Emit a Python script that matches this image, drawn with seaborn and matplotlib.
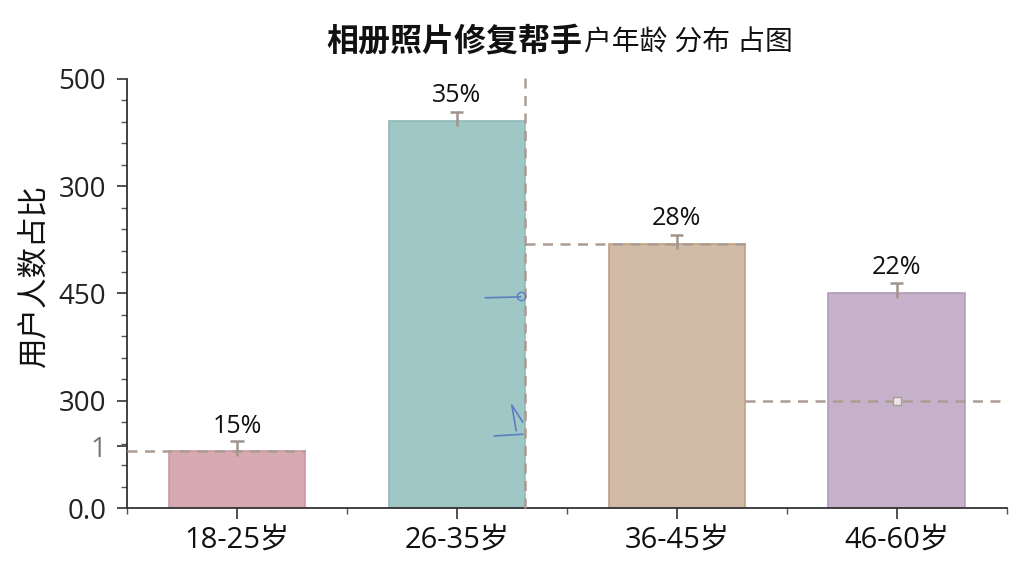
import matplotlib
matplotlib.use("Agg")
import matplotlib.pyplot as plt
from matplotlib.ticker import FixedLocator, MultipleLocator
import numpy as np
import seaborn as sns

# data (bar heights in axis units)
ages = ["18-25岁", "26-35岁", "36-45岁", "46-60岁"]
heights = [66, 451, 308, 251]
pct_labels = ["15%", "35%", "28%", "22%"]
err_up = [12, 11, 10, 11]
err_down = [5, 6, 6, 6]
bar_colors = ["#d9a9b1", "#9fc7c6", "#d2bba6", "#c5b1c9"]
edge_colors = ["#c99aa2", "#8fbab8", "#bf9f80", "#b29cb8"]

ytick_pos = [0, 72, 125, 250, 375, 500]
ytick_text = ["0.0", "1", "300", "450", "300", "500"]

# dashed guide lines: (y, x_start, x_end)
guide_y = [66, 308, 125]
guide_x0 = [-0.5, 1.31, 2.31]
guide_x1 = [0.31, 2.31, 3.5]
vguide_x = 1.31
vguide_top = 506

sns.set_theme(style="ticks")
plt.rcParams["font.family"] = ["Open Sans", "Noto Sans CJK SC", "DejaVu Sans"]

fig = plt.figure(figsize=(10.24, 5.76), dpi=100)
ax = fig.add_axes([0.124, 0.118, 0.859, 0.745])

sns.barplot(x=ages, y=heights, hue=ages, palette=bar_colors, legend=False,
            width=0.62, saturation=1, ax=ax, zorder=2, errorbar=None)
for p, ec in zip(ax.patches, edge_colors):
    p.set_edgecolor(ec)
    p.set_linewidth(1.2)

xs = np.arange(len(ages))
grey = "#a3948b"
ax.vlines(xs, np.array(heights) - np.array(err_down), np.array(heights) + np.array(err_up),
          color=grey, lw=1.8, zorder=4)
ax.hlines(np.array(heights) + np.array(err_up), xs - 0.03, xs + 0.03, color=grey, lw=1.8, zorder=4)

for x, h, t in zip(xs, heights, pct_labels):
    ax.annotate(t, (x, h), xytext=(0, 18), textcoords="offset points",
                ha="center", va="center", fontsize=18, color="#111111")

dash_c = "#ab9d95"
for y, a, b in zip(guide_y, guide_x0, guide_x1):
    ax.plot([a, b], [y, y], ls=(0, (4, 3)), color=dash_c, lw=1.8, zorder=3, clip_on=False)
ax.plot([vguide_x, vguide_x], [0, vguide_top], ls=(0, (4, 3)), color=dash_c, lw=1.8,
        zorder=3, clip_on=False)
ax.plot([3], [125], marker="s", ms=6, mfc="#ece6e8", mec=dash_c, zorder=4)

# stray blue pen marks
ax.plot([1.13, 1.29], [245, 246], color="#5b7fc0", lw=1.2, zorder=5)
ax.plot([1.29], [247], marker="o", ms=6, mfc="none", mec="#5b7fc0", zorder=5)
ax.plot([1.17, 1.3], [84, 86], color="#5b7fc0", lw=1.2, zorder=5)
ax.plot([1.27, 1.25, 1.3], [90, 120, 100], color="#5b7fc0", lw=1.2, zorder=5)

ax.set_xlim(-0.5, 3.5)
ax.set_ylim(0, 500)
ax.yaxis.set_major_locator(FixedLocator(ytick_pos))
ax.set_yticklabels(ytick_text)
ax.yaxis.set_minor_locator(MultipleLocator(25))
ax.xaxis.set_minor_locator(FixedLocator([-0.5, 0.5, 1.5, 2.5, 3.5]))
ax.tick_params(axis="y", which="major", labelsize=20, length=7, width=1.2, color="#333333",
               labelcolor="#222222", pad=8)
ax.tick_params(axis="y", which="minor", length=4, width=1, color="#555555")
ax.tick_params(axis="x", which="major", labelsize=21, length=8, width=1.2, color="#333333",
               labelcolor="#111111", pad=5)
ax.tick_params(axis="x", which="minor", length=4, width=1, color="#555555")
ax.get_yticklabels()[1].set_color("#777777")

sns.despine(ax=ax)
for s in ["left", "bottom"]:
    ax.spines[s].set_color("#333333")
    ax.spines[s].set_linewidth(1.3)

ax.set_ylabel("用户人数占比", fontsize=22, color="#111111")
ax.yaxis.set_label_coords(-0.088, 0.54)

fig.text(0.569, 0.927, "相册照片修复帮手", ha="right", va="center", fontsize=23,
         fontweight="bold", color="#111111")
fig.text(0.570, 0.925, "户年龄 分布 占图", ha="left", va="center", fontsize=20,
         color="#111111")

fig.savefig("out.png", dpi=100, facecolor="white")
